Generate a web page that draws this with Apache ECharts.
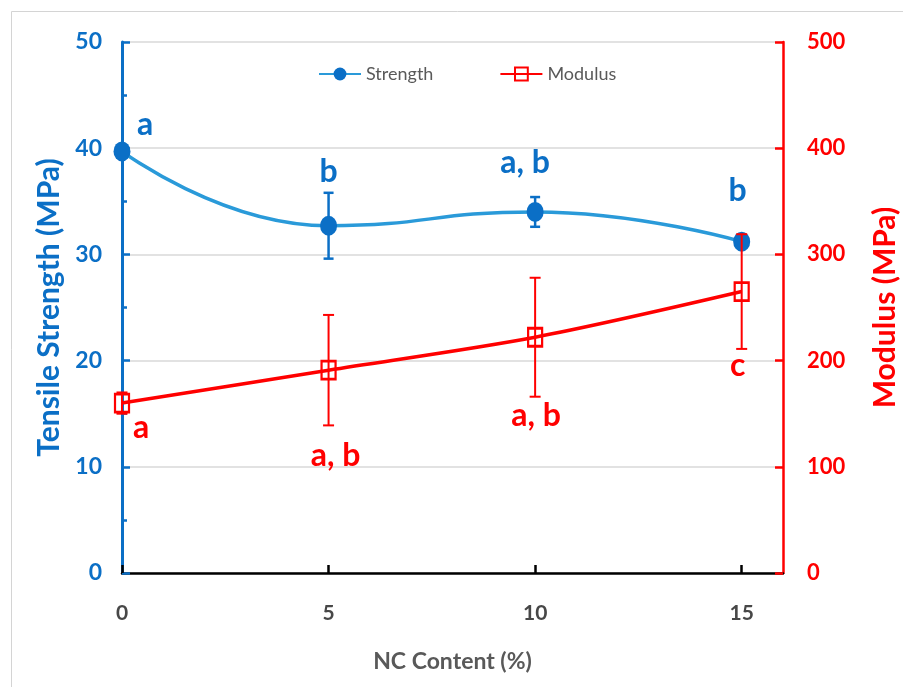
<!DOCTYPE html>
<html>
<head>
<meta charset="utf-8">
<title>Tensile strength and modulus vs NC content</title>
<script src="https://cdn.jsdelivr.net/npm/echarts@6/dist/echarts.min.js"></script>
<style>
  html, body { margin: 0; padding: 0; background: #ffffff; }
  #chart { width: 903px; height: 687px; }
</style>
</head>
<body>
<div id="chart"></div>
<script>
// NC content (%) on the x axis
const ncContent = [0, 5, 10, 15];
const xTicks = [0, 5, 10, 15];

// Tensile strength (MPa), standard deviation and significance groups
const strength = [39.7, 32.7, 34.0, 31.2];
const strengthErr = [0.3, 3.1, 1.4, 0.5];
const strengthGroups = ['a', 'b', 'a, b', 'b'];

// Modulus (MPa), standard deviation and significance groups
const modulus = [160, 191, 222, 265];
const modulusErr = [10, 52, 56, 54];
const modulusGroups = ['a', 'a, b', 'a, b', 'c'];

const BLUE = '#0B6FC6';
const BLUE_LINE = '#2A9AD9';
const RED = '#FF0000';
const FONT = 'Lato';

// letter placement around each point (px from the marker centre)
const strengthLabelShift = [[23, -27], [0, -54], [-10, -49], [-4, -51]];
const modulusLabelShift = [[19, 25], [7, 86], [1, 78], [-4, 74]];

function errorBarData(xs, ys, errs) {
  return xs.map((x, i) => [x, ys[i] - errs[i], ys[i] + errs[i]]);
}

function errorBars(color, width, cap) {
  return function (params, api) {
    const x = api.value(0);
    const lo = api.coord([x, api.value(1)]);
    const hi = api.coord([x, api.value(2)]);
    const style = { stroke: color, lineWidth: width };
    return {
      type: 'group',
      children: [
        { type: 'line', shape: { x1: lo[0], y1: lo[1], x2: hi[0], y2: hi[1] }, style },
        { type: 'line', shape: { x1: hi[0] - cap, y1: hi[1], x2: hi[0] + cap, y2: hi[1] }, style },
        { type: 'line', shape: { x1: lo[0] - cap, y1: lo[1], x2: lo[0] + cap, y2: lo[1] }, style }
      ]
    };
  };
}

function labelledPoints(xs, ys, groups, shifts, color) {
  return xs.map((x, i) => ({
    value: [x, ys[i]],
    label: {
      show: true,
      position: 'inside',
      offset: shifts[i],
      formatter: groups[i],
      color: color,
      fontFamily: FONT,
      fontWeight: 'bold',
      fontSize: 32
    }
  }));
}

const chart = echarts.init(document.getElementById('chart'), null, { renderer: 'canvas' });

chart.setOption({
  backgroundColor: '#ffffff',
  animation: false,
  textStyle: { fontFamily: FONT },
  graphic: [{
    type: 'rect',
    silent: true,
    shape: { x: 11.5, y: 11.5, width: 900, height: 700 },
    style: { fill: 'none', stroke: '#d4d4d4', lineWidth: 1 }
  }],
  grid: { left: 122, right: 120, top: 42, bottom: 114, containLabel: false, outerBoundsMode: 'none' },
  legend: {
    left: 313,
    top: 60,
    itemWidth: 42,
    itemHeight: 16,
    itemGap: 66,
    data: ['Strength', 'Modulus'],
    textStyle: { fontFamily: FONT, fontSize: 18, color: '#595959' }
  },
  xAxis: {
    type: 'value',
    min: 0,
    max: 16,
    interval: 5,
    name: 'NC Content (%)',
    nameLocation: 'middle',
    nameGap: 77,
    nameTextStyle: { fontFamily: FONT, fontSize: 23, fontWeight: 'bold', color: '#595959' },
    axisLine: { show: true, onZero: false, lineStyle: { color: '#000000', width: 2.5 } },
    axisTick: { show: true, inside: true, length: 8, customValues: xTicks, lineStyle: { color: '#000000', width: 2.5 } },
    axisLabel: { customValues: xTicks, margin: 30, fontFamily: FONT, fontSize: 21, fontWeight: 'bold', color: '#474747' },
    splitLine: { show: false }
  },
  yAxis: [{
    type: 'value',
    position: 'left',
    min: 0,
    max: 50,
    interval: 10,
    name: 'Tensile Strength (MPa)',
    nameLocation: 'middle',
    nameGap: 58,
    nameRotate: 90,
    nameTextStyle: { fontFamily: FONT, fontSize: 30, fontWeight: 'bold', color: BLUE },
    axisLine: { show: true, lineStyle: { color: BLUE, width: 3 } },
    axisTick: { show: true, inside: true, length: 8, lineStyle: { color: BLUE, width: 2.5 } },
    minorTick: { show: true, splitNumber: 2, length: 5, lineStyle: { color: BLUE, width: 2.5 } },
    axisLabel: { margin: 20, fontFamily: FONT, fontSize: 23, fontWeight: 'bold', color: BLUE },
    splitLine: { show: true, lineStyle: { color: '#d9d9d9', width: 1.5 } }
  }, {
    type: 'value',
    position: 'right',
    min: 0,
    max: 500,
    interval: 100,
    name: 'Modulus (MPa)',
    nameLocation: 'middle',
    nameGap: 87,
    nameRotate: 90,
    nameTextStyle: { fontFamily: FONT, fontSize: 30, fontWeight: 'bold', color: RED },
    axisLine: { show: true, lineStyle: { color: RED, width: 2.5 } },
    axisTick: { show: true, inside: true, length: 8, lineStyle: { color: RED, width: 2.5 } },
    axisLabel: { margin: 24, fontFamily: FONT, fontSize: 22, fontWeight: 'bold', color: RED },
    splitLine: { show: false }
  }],
  series: [{
    name: 'Strength error',
    type: 'custom',
    xAxisIndex: 0,
    yAxisIndex: 0,
    renderItem: errorBars(BLUE, 2.5, 5),
    encode: { x: 0, y: [1, 2] },
    data: errorBarData(ncContent, strength, strengthErr),
    z: 3
  }, {
    name: 'Strength',
    type: 'line',
    xAxisIndex: 0,
    yAxisIndex: 0,
    smooth: 0.5,
    symbol: 'circle',
    symbolSize: [17, 20],
    lineStyle: { color: BLUE_LINE, width: 3.5 },
    itemStyle: { color: BLUE },
    data: labelledPoints(ncContent, strength, strengthGroups, strengthLabelShift, BLUE),
    z: 4
  }, {
    name: 'Modulus error',
    type: 'custom',
    xAxisIndex: 0,
    yAxisIndex: 1,
    renderItem: errorBars(RED, 2, 5.5),
    encode: { x: 0, y: [1, 2] },
    data: errorBarData(ncContent, modulus, modulusErr),
    z: 5
  }, {
    name: 'Modulus',
    type: 'line',
    xAxisIndex: 0,
    yAxisIndex: 1,
    smooth: 0.3,
    symbol: 'rect',
    symbolSize: [14, 18],
    lineStyle: { color: RED, width: 3.5 },
    itemStyle: { color: 'rgba(255,255,255,0)', borderColor: RED, borderWidth: 2.5 },
    data: labelledPoints(ncContent, modulus, modulusGroups, modulusLabelShift, RED),
    z: 6
  }]
});
</script>
</body>
</html>
